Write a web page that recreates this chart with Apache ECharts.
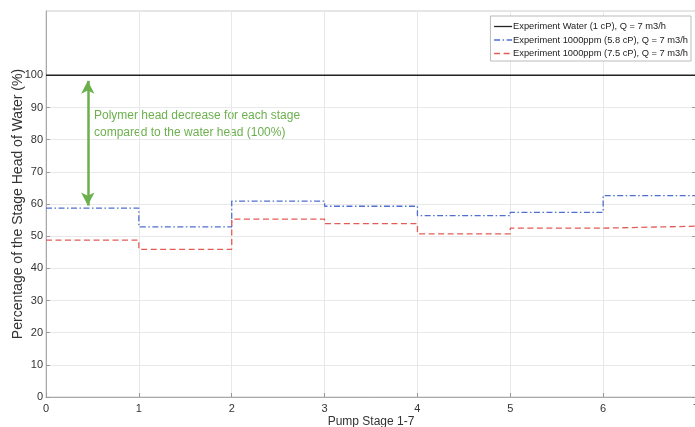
<!DOCTYPE html>
<html>
<head>
<meta charset="utf-8">
<script src="https://cdn.jsdelivr.net/npm/echarts@6/dist/echarts.min.js"></script>
<style>html,body{margin:0;padding:0;background:#fff}#c{width:695px;height:427px}</style>
</head>
<body>
<div id="c"></div>
<script>
var stages = [0, 1, 2, 3, 4, 5, 6, 7];
var xTicks = [0, 1, 2, 3, 4, 5, 6, 7];
var yTicks = [0, 10, 20, 30, 40, 50, 60, 70, 80, 90, 100];
var waterValues = [100, 100, 100, 100, 100, 100, 100];
var ppm58Values = [58.7, 52.9, 60.9, 59.3, 56.4, 57.4, 62.6];
var ppm75Values = [48.8, 45.9, 55.3, 53.9, 50.7, 52.5, 53.1];
var seriesNames = ['Experiment Water (1 cP), Q = 7 m3/h', 'Experiment 1000ppm (5.8 cP), Q = 7 m3/h', 'Experiment 1000ppm (7.5 cP), Q = 7 m3/h'];
var arrowX = 0.45, arrowTop = 98.3, arrowBottom = 59.5;
var noteLines = ['Polymer head decrease for each stage', 'compared to the water head (100%)'];

function stepData(vals) {
  var d = [];
  for (var i = 0; i < vals.length; i++) d.push([stages[i], vals[i]]);
  d.push([stages[vals.length], vals[vals.length - 1]]);
  return d;
}

var FONT = '"Liberation Sans", Arial, Helvetica, sans-serif';
var colors = ['#222222', '#4f6fd0', '#e25c57'];
var dashes = ['solid', [6, 2.5, 1.5, 2.5], [6, 3.5]];
var chart = echarts.init(document.getElementById('c'), null, {renderer: 'canvas'});
var yAxisBase = {
  type: 'value', min: 0, max: 120, interval: 10,
  axisLine: {show: true, lineStyle: {color: '#aaaaaa'}},
  axisTick: {show: true, inside: true, length: 4, lineStyle: {color: '#999999'}, customValues: yTicks},
  splitLine: {show: true, lineStyle: {color: '#e8e8e8', width: 1}},
  axisLabel: {customValues: yTicks, color: '#333', fontSize: 11, fontFamily: FONT, margin: 3}
};
chart.setOption({
  animation: false,
  backgroundColor: '#fff',
  grid: {left: 46, top: 11, width: 650, height: 386, show: true, borderColor: '#cccccc', borderWidth: 1,
         backgroundColor: 'transparent', containLabel: false, outerBoundsMode: 'none'},
  legend: {
    orient: 'vertical', right: 4, top: 16,
    backgroundColor: '#fff', borderColor: '#bbbbbb', borderWidth: 1,
    padding: [6, 3, 3, 3], itemGap: 4.5, itemWidth: 18, itemHeight: 10,
    itemStyle: {opacity: 0},
    textStyle: {fontSize: 9.3, fontFamily: FONT, color: '#222', padding: [0, 0, 0, -4]},
    data: seriesNames.map(function (n, i) {
      return {name: n, lineStyle: {color: colors[i], width: 1.3, type: dashes[i], opacity: 1}};
    })
  },
  xAxis: {
    type: 'value', min: 0, max: 7, interval: 1,
    name: 'Pump Stage 1-7', nameLocation: 'middle', nameGap: 19, nameMoveOverlap: false,
    nameTextStyle: {fontSize: 12, fontFamily: FONT, color: '#333'},
    axisLine: {show: true, lineStyle: {color: '#aaaaaa'}},
    axisTick: {show: true, inside: true, length: 4, lineStyle: {color: '#999999'}, customValues: xTicks},
    splitLine: {show: true, lineStyle: {color: '#e8e8e8', width: 1}},
    axisLabel: {customValues: xTicks, color: '#333', fontSize: 11, fontFamily: FONT, margin: 6, showMaxLabel: true}
  },
  yAxis: [
    Object.assign({}, yAxisBase, {
      name: 'Percentage of the Stage Head of Water (%)', nameLocation: 'middle', nameGap: 21, nameMoveOverlap: false,
      nameTextStyle: {fontSize: 14, fontFamily: FONT, color: '#333'}
    }),
    Object.assign({}, yAxisBase, {
      position: 'right',
      axisLine: {show: false},
      splitLine: {show: false},
      axisLabel: {show: false}
    })
  ],
  graphic: [{
    type: 'text', left: 94, top: 107,
    style: {text: noteLines.join('\n'), fill: '#6cb04e', font: '12px ' + FONT, lineHeight: 17}
  }],
  series: [
    {
      name: seriesNames[0], type: 'line', data: stepData(waterValues), step: 'end',
      symbol: 'none', lineStyle: {color: colors[0], width: 1.5, type: dashes[0]}, itemStyle: {color: colors[0]},
      markLine: {
        silent: true, symbol: ['arrow', 'arrow'], symbolSize: [10, 13],
        lineStyle: {color: '#6cb04e', width: 2.5, type: 'solid'},
        label: {show: false},
        data: [[{coord: [arrowX, arrowTop]}, {coord: [arrowX, arrowBottom]}]]
      }
    },
    {
      name: seriesNames[1], type: 'line', data: stepData(ppm58Values), step: 'end',
      symbol: 'none', lineStyle: {color: colors[1], width: 1.3, type: dashes[1]}, itemStyle: {color: colors[1]}
    },
    {
      name: seriesNames[2], type: 'line', data: stepData(ppm75Values), step: 'end',
      symbol: 'none', lineStyle: {color: colors[2], width: 1.3, type: dashes[2]}, itemStyle: {color: colors[2]}
    }
  ]
});
</script>
</body>
</html>
